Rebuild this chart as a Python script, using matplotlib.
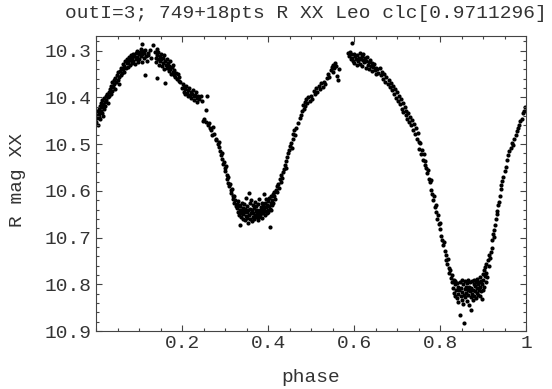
import matplotlib
matplotlib.use('Agg')
import matplotlib.pyplot as plt
from matplotlib.ticker import MultipleLocator

# light curve, phase vs R magnitude
phase = [
    # rising branch 0.00-0.10
    0.001, 0.002, 0.003, 0.004, 0.005, 0.006, 0.007, 0.008, 0.009, 0.010, 0.011, 0.012, 0.013, 0.014, 0.015,
    0.016, 0.017, 0.018, 0.019, 0.020, 0.022, 0.023, 0.024, 0.026, 0.027, 0.028, 0.030, 0.031, 0.033, 0.034,
    0.035, 0.037, 0.038, 0.040, 0.041, 0.043, 0.044, 0.045, 0.047, 0.048, 0.050, 0.051, 0.053, 0.054, 0.056,
    0.057, 0.059, 0.060, 0.062, 0.063, 0.065, 0.066, 0.068, 0.069, 0.071, 0.072, 0.074, 0.075, 0.077, 0.078,
    0.080, 0.081, 0.083, 0.084, 0.086, 0.087, 0.089, 0.090, 0.092, 0.093, 0.095, 0.096, 0.098, 0.099,
    # first maximum
    0.101, 0.102, 0.104, 0.105, 0.106, 0.107, 0.108, 0.110, 0.111, 0.112, 0.114, 0.115, 0.117, 0.118, 0.120,
    0.122, 0.125, 0.127, 0.133,
    0.137, 0.139, 0.140, 0.141, 0.142, 0.143, 0.144, 0.145, 0.146, 0.148, 0.149, 0.150, 0.152, 0.153, 0.155,
    0.156, 0.157, 0.159, 0.160, 0.161, 0.163, 0.164, 0.166, 0.167, 0.169, 0.170, 0.172, 0.173, 0.175, 0.176,
    0.178, 0.179, 0.181, 0.182, 0.184, 0.186, 0.188, 0.190, 0.192, 0.194, 0.196,
    # decline
    0.200, 0.202, 0.204, 0.205, 0.207, 0.208, 0.210, 0.212, 0.213, 0.215, 0.217, 0.218, 0.220, 0.222, 0.223,
    0.225, 0.227, 0.228, 0.230, 0.232, 0.234, 0.236, 0.238, 0.240,
    0.244, 0.246, 0.248, 0.251, 0.255, 0.256, 0.258, 0.260, 0.263, 0.266, 0.268, 0.270, 0.272, 0.275, 0.278,
    0.280, 0.283, 0.285, 0.287,
    0.289, 0.291, 0.293, 0.294, 0.296, 0.298, 0.299, 0.301, 0.302, 0.304, 0.305, 0.307, 0.308, 0.310, 0.311,
    0.313, 0.314, 0.316, 0.318, 0.319, 0.321, 0.322, 0.324, 0.325, 0.327,
    # secondary minimum
    0.329, 0.330, 0.331, 0.332, 0.333, 0.334, 0.335, 0.336, 0.337, 0.338, 0.339, 0.340, 0.341, 0.342, 0.343,
    0.344, 0.345, 0.346, 0.347, 0.348, 0.349, 0.350, 0.351, 0.352, 0.353, 0.354, 0.355, 0.356, 0.357, 0.358,
    0.359, 0.360, 0.361, 0.362, 0.363, 0.364, 0.365, 0.366, 0.367, 0.368, 0.369, 0.370, 0.371, 0.372, 0.373,
    0.374, 0.375, 0.376, 0.377, 0.378, 0.379, 0.380, 0.381, 0.382, 0.383, 0.384, 0.385, 0.386, 0.387, 0.388,
    0.389, 0.390, 0.391, 0.392, 0.393, 0.394, 0.395, 0.396, 0.397, 0.398, 0.399, 0.400, 0.401, 0.402, 0.403,
    0.404, 0.405, 0.406, 0.407, 0.408, 0.409, 0.410, 0.411, 0.412, 0.413, 0.415, 0.416,
    # rise
    0.418, 0.420, 0.422, 0.424, 0.426, 0.428, 0.430, 0.431, 0.433, 0.435, 0.437, 0.439, 0.441, 0.443, 0.445,
    0.447, 0.449, 0.451, 0.453, 0.455, 0.457, 0.459, 0.461, 0.463, 0.466, 0.470, 0.474, 0.477, 0.479, 0.481,
    0.483, 0.485, 0.487, 0.489, 0.491, 0.494, 0.497, 0.500, 0.503, 0.506, 0.509, 0.512, 0.515, 0.518, 0.521,
    0.524, 0.527, 0.530, 0.533, 0.537, 0.540, 0.543, 0.546, 0.548, 0.550, 0.552, 0.554, 0.556, 0.558, 0.560,
    0.563, 0.565,
    # second maximum
    0.595, 0.586, 0.588, 0.590, 0.592, 0.594, 0.596, 0.598, 0.600, 0.601, 0.603, 0.605, 0.606, 0.608, 0.609,
    0.611, 0.613, 0.614, 0.616, 0.618, 0.619, 0.621, 0.622, 0.624, 0.626, 0.627, 0.629, 0.631, 0.632, 0.634,
    0.636, 0.637, 0.639, 0.641, 0.643, 0.644, 0.646, 0.648, 0.650, 0.652, 0.654, 0.656,
    # decline to primary minimum
    0.660, 0.662, 0.665, 0.667, 0.670, 0.673, 0.675, 0.678, 0.681, 0.684, 0.686, 0.688, 0.691, 0.693, 0.696,
    0.698, 0.700, 0.702, 0.704, 0.706, 0.709, 0.711, 0.713, 0.715, 0.718, 0.720, 0.722, 0.724, 0.726, 0.728,
    0.731, 0.733, 0.735, 0.737, 0.739, 0.742, 0.744, 0.746, 0.748, 0.750, 0.752, 0.754, 0.756, 0.758, 0.760,
    0.762, 0.764, 0.766, 0.768, 0.770, 0.772, 0.774, 0.776, 0.778, 0.780, 0.782, 0.784, 0.786, 0.788, 0.790,
    0.791, 0.793, 0.795, 0.797, 0.799, 0.801, 0.803, 0.805, 0.807, 0.809, 0.811, 0.813, 0.815, 0.817, 0.819,
    0.820, 0.822, 0.824, 0.826,
    # primary minimum
    0.828, 0.829, 0.830, 0.832, 0.833, 0.834, 0.835, 0.836, 0.838, 0.839, 0.840, 0.841, 0.842, 0.843, 0.845,
    0.846, 0.847, 0.848, 0.849, 0.850, 0.851, 0.852, 0.853, 0.854, 0.855, 0.856, 0.857, 0.858, 0.859, 0.860,
    0.861, 0.862, 0.863, 0.864, 0.865, 0.866, 0.867, 0.868, 0.869, 0.870, 0.871, 0.872, 0.873, 0.874, 0.875,
    0.876, 0.877, 0.878, 0.879, 0.880, 0.881, 0.882, 0.883, 0.884, 0.885, 0.886, 0.887, 0.888, 0.889, 0.890,
    0.891, 0.892, 0.893, 0.894, 0.895, 0.896, 0.897, 0.898, 0.899, 0.900, 0.901, 0.902, 0.903, 0.904, 0.905,
    0.906, 0.907, 0.908, 0.909,
    # final rise
    0.911, 0.913, 0.915, 0.917, 0.918, 0.920, 0.922, 0.923, 0.925, 0.926, 0.928, 0.930, 0.932, 0.933, 0.935,
    0.937, 0.939, 0.941, 0.943, 0.945, 0.947, 0.950, 0.953, 0.956, 0.958, 0.961, 0.964, 0.967, 0.970, 0.973,
    0.976, 0.978, 0.981, 0.984, 0.987, 0.990, 0.993, 0.996, 0.998,
]

rmag = [
    10.452, 10.438, 10.445, 10.430, 10.458, 10.441, 10.425, 10.436, 10.419, 10.447, 10.428, 10.412, 10.433, 10.420, 10.405,
    10.440, 10.415, 10.424, 10.402, 10.410, 10.418, 10.398, 10.406, 10.392, 10.412, 10.400, 10.389, 10.397, 10.381, 10.393,
    10.375, 10.386, 10.368, 10.378, 10.362, 10.372, 10.383, 10.358, 10.366, 10.352, 10.362, 10.345, 10.356, 10.371, 10.343,
    10.351, 10.336, 10.348, 10.340, 10.329, 10.345, 10.333, 10.322, 10.338, 10.327, 10.318, 10.335, 10.324, 10.313, 10.330,
    10.320, 10.310, 10.326, 10.316, 10.306, 10.322, 10.312, 10.329, 10.305, 10.318, 10.300, 10.314, 10.325, 10.308,
    10.318, 10.302, 10.312, 10.297, 10.325, 10.286, 10.308, 10.300, 10.316, 10.305, 10.352, 10.298, 10.312, 10.321, 10.304,
    10.310, 10.298, 10.316, 10.288,
    10.302, 10.315, 10.325, 10.297, 10.309, 10.358, 10.318, 10.303, 10.330, 10.312, 10.322, 10.306, 10.318, 10.333, 10.315,
    10.326, 10.310, 10.340, 10.322, 10.369, 10.331, 10.318, 10.338, 10.327, 10.344, 10.332, 10.322, 10.340, 10.350, 10.335,
    10.345, 10.330, 10.352, 10.341, 10.356, 10.347, 10.360, 10.350, 10.365, 10.357, 10.368,
    10.380, 10.372, 10.388, 10.378, 10.393, 10.383, 10.375, 10.390, 10.398, 10.385, 10.379, 10.395, 10.388, 10.402, 10.392,
    10.384, 10.398, 10.406, 10.395, 10.388, 10.402, 10.410, 10.396, 10.404,
    10.398, 10.408, 10.451, 10.446, 10.452, 10.427, 10.397, 10.460, 10.455, 10.466, 10.470, 10.481, 10.463, 10.478, 10.492,
    10.488, 10.500, 10.496, 10.507,
    10.515, 10.524, 10.532, 10.520, 10.542, 10.538, 10.551, 10.558, 10.547, 10.566, 10.575, 10.570, 10.583, 10.590, 10.586,
    10.598, 10.604, 10.596, 10.610, 10.618, 10.612, 10.625, 10.620, 10.632, 10.628,
    10.636, 10.622, 10.645, 10.630, 10.652, 10.640, 10.674, 10.633, 10.648, 10.656, 10.626, 10.642, 10.660, 10.637, 10.650,
    10.628, 10.645, 10.662, 10.638, 10.654, 10.615, 10.646, 10.658, 10.632, 10.668, 10.641, 10.605, 10.652, 10.626, 10.660,
    10.638, 10.647, 10.620, 10.664, 10.640, 10.655, 10.630, 10.648, 10.661, 10.636, 10.652, 10.624, 10.644, 10.657, 10.633,
    10.650, 10.640, 10.662, 10.628, 10.646, 10.655, 10.618, 10.642, 10.652, 10.634, 10.648, 10.626, 10.658, 10.640, 10.630,
    10.648, 10.606, 10.637, 10.652, 10.625, 10.643, 10.634, 10.617, 10.648, 10.630, 10.640, 10.622, 10.645, 10.632, 10.615,
    10.638, 10.678, 10.626, 10.640, 10.612, 10.630, 10.620, 10.606, 10.625, 10.612, 10.602, 10.618,
    10.598, 10.590, 10.602, 10.585, 10.593, 10.575, 10.582, 10.566, 10.572, 10.560, 10.553, 10.545, 10.550, 10.537, 10.528,
    10.520, 10.512, 10.504, 10.497, 10.508, 10.490, 10.478, 10.470, 10.480, 10.466, 10.455, 10.445, 10.438, 10.428, 10.416,
    10.424, 10.410, 10.418, 10.403, 10.412, 10.400, 10.408, 10.397, 10.404, 10.386, 10.392, 10.380, 10.388, 10.376, 10.383,
    10.370, 10.378, 10.366, 10.372, 10.358, 10.350, 10.356, 10.342, 10.335, 10.345, 10.330, 10.338, 10.326, 10.333, 10.355,
    10.362, 10.340,
    10.284, 10.305, 10.312, 10.302, 10.318, 10.308, 10.315, 10.322, 10.306, 10.326, 10.312, 10.318, 10.330, 10.310, 10.323,
    10.316, 10.305, 10.328, 10.318, 10.312, 10.332, 10.320, 10.308, 10.325, 10.316, 10.336, 10.322, 10.314, 10.330, 10.325,
    10.340, 10.320, 10.333, 10.327, 10.344, 10.335, 10.328, 10.342, 10.336, 10.350, 10.340, 10.348,
    10.338, 10.352, 10.345, 10.360, 10.349, 10.366, 10.356, 10.371, 10.362, 10.378, 10.369, 10.385, 10.376, 10.392, 10.383,
    10.401, 10.389, 10.408, 10.396, 10.415, 10.404, 10.424, 10.411, 10.431, 10.420, 10.437, 10.428, 10.446, 10.433, 10.452,
    10.441, 10.460, 10.449, 10.470, 10.457, 10.478, 10.466, 10.489, 10.477, 10.496, 10.510, 10.498, 10.521, 10.512, 10.533,
    10.522, 10.545, 10.536, 10.552, 10.561, 10.556, 10.574, 10.582, 10.577, 10.598, 10.606, 10.619, 10.612, 10.634, 10.645,
    10.630, 10.660, 10.652, 10.672, 10.681, 10.668, 10.697, 10.705, 10.716, 10.709, 10.728, 10.737, 10.748, 10.756, 10.745,
    10.765, 10.776, 10.770, 10.786,
    10.795, 10.781, 10.808, 10.790, 10.818, 10.800, 10.826, 10.792, 10.812, 10.830, 10.798, 10.820, 10.806, 10.838, 10.812,
    10.795, 10.866, 10.825, 10.808, 10.834, 10.790, 10.816, 10.842, 10.800, 10.822, 10.883, 10.810, 10.793, 10.828, 10.805,
    10.818, 10.836, 10.798, 10.812, 10.790, 10.824, 10.806, 10.845, 10.815, 10.796, 10.828, 10.855, 10.808, 10.820, 10.792,
    10.834, 10.812, 10.800, 10.826, 10.790, 10.815, 10.804, 10.830, 10.796, 10.818, 10.808, 10.788, 10.822, 10.800, 10.812,
    10.795, 10.826, 10.784, 10.806, 10.815, 10.792, 10.832, 10.800, 10.778, 10.812, 10.790, 10.770, 10.805, 10.782, 10.764,
    10.795, 10.775, 10.756, 10.784,
    10.748, 10.760, 10.738, 10.744, 10.730, 10.722, 10.705, 10.692, 10.698, 10.684, 10.674, 10.660, 10.650, 10.644, 10.630,
    10.624, 10.612, 10.597, 10.588, 10.578, 10.570, 10.558, 10.548, 10.535, 10.524, 10.515, 10.508, 10.497, 10.502, 10.490,
    10.480, 10.472, 10.466, 10.458, 10.450, 10.446, 10.434, 10.428, 10.420,
]

xtick_vals = [0.2, 0.4, 0.6, 0.8, 1.0]
xtick_labels = ['0.2', '0.4', '0.6', '0.8', '1']
ytick_vals = [10.3, 10.4, 10.5, 10.6, 10.7, 10.8, 10.9]
ytick_labels = ['10.3', '10.4', '10.5', '10.6', '10.7', '10.8', '10.9']

plt.rcParams['font.family'] = ['Liberation Mono', 'DejaVu Sans Mono']
txtcol = '#333333'

fig = plt.figure(figsize=(5.52, 3.89), dpi=100)
ax = fig.add_axes([96 / 552, 1 - 331 / 389, 430 / 552, 295 / 389])

ax.scatter(phase, rmag, s=9, c='black', marker='o', linewidths=0)

ax.set_xlim(0, 1)
ax.set_ylim(10.9, 10.2685)

ax.set_xticks(xtick_vals)
ax.set_xticklabels(xtick_labels)
ax.set_yticks(ytick_vals)
ax.set_yticklabels(ytick_labels)
ax.xaxis.set_minor_locator(MultipleLocator(0.05))
ax.yaxis.set_minor_locator(MultipleLocator(0.02))
ax.tick_params(which='both', direction='in', top=True, right=True,
               labelsize=14, labelcolor=txtcol, color='#444444', width=0.8)
ax.tick_params(which='major', length=4.5, pad=3)
ax.tick_params(which='minor', length=2.5)
for s in ax.spines.values():
    s.set_color('#444444')
    s.set_linewidth(0.8)

fig.text(306 / 552, 1 - 14 / 389, 'outI=3; 749+18pts R XX Leo clc[0.9711296]',
         ha='center', va='center', fontsize=14, color=txtcol)
fig.text(311 / 552, 1 - 377 / 389, 'phase', ha='center', va='center', fontsize=14, color=txtcol)
fig.text(18 / 552, 1 - 180 / 389, 'R mag XX', ha='center', va='center', rotation=90,
         fontsize=14, color=txtcol)

fig.savefig('out.png', dpi=100)
